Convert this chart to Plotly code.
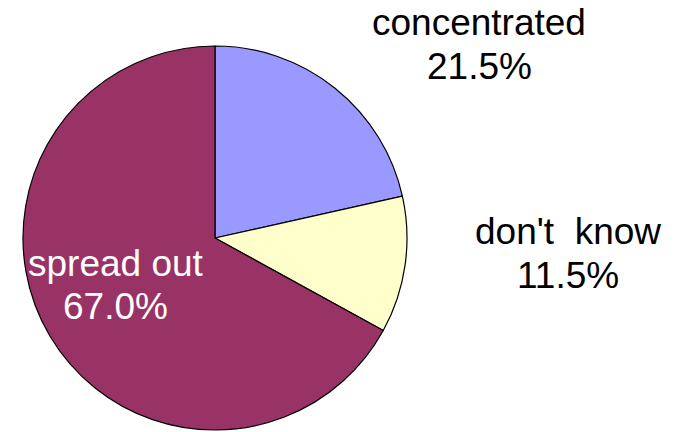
import plotly.graph_objects as go

labels = ["concentrated", "don't\u00a0\u00a0know", "spread out"]
values = [21.5, 11.5, 67.0]
colors = ["#9999FF", "#FFFFCC", "#993366"]

W, H = 675, 432

fig = go.Figure(go.Pie(
    labels=labels,
    values=values,
    sort=False,
    direction="clockwise",
    rotation=0,
    marker=dict(colors=colors, line=dict(color="black", width=1.2)),
    textinfo="none",
    hoverinfo="label+percent",
    showlegend=False,
    domain=dict(x=[23 / W, 407 / W], y=[1 - 430 / H, 1 - 46 / H]),
))

font = dict(family="Liberation Sans, Arial, sans-serif", size=37)
# label positions (pixel centers): (x, y_name, y_value, color)
pos = [
    (479, 23, 66, "black"),
    (568, 231, 275, "black"),
    (116, 263, 306, "white"),
]
for (lab, val), (px, py1, py2, col) in zip(zip(labels, values), pos):
    for txt, py in ((lab, py1), (f"{val:.1f}%", py2)):
        fig.add_annotation(
            x=px / W, y=1 - py / H, xref="paper", yref="paper",
            text=txt, showarrow=False, xanchor="center", yanchor="middle",
            font=dict(family=font["family"], size=font["size"], color=col),
        )

fig.update_layout(
    width=W, height=H,
    margin=dict(l=0, r=0, t=0, b=0),
    paper_bgcolor="white",
    plot_bgcolor="white",
)
fig.write_html("out.html")
